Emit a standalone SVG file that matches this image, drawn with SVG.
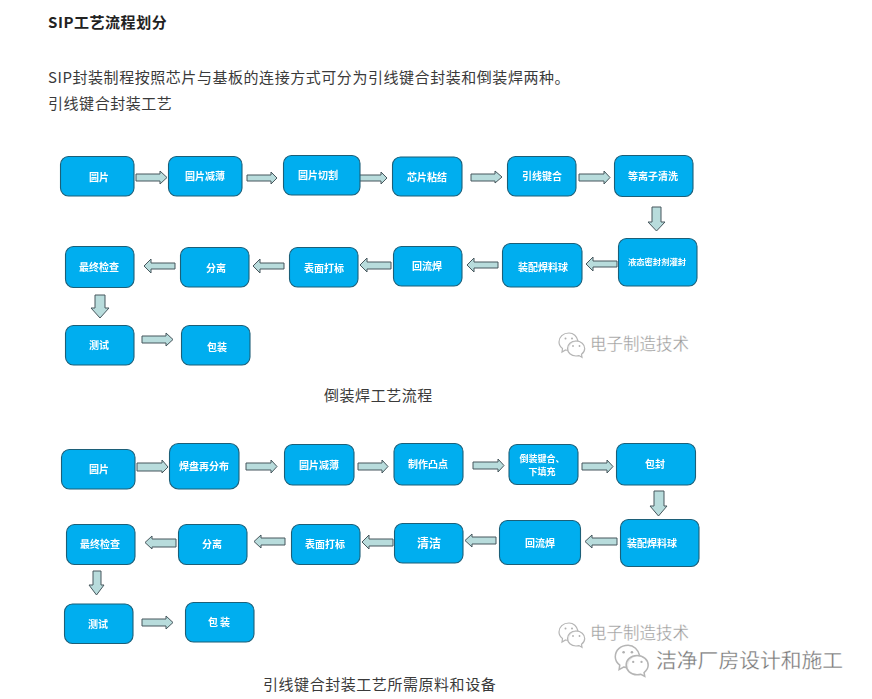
<svg xmlns="http://www.w3.org/2000/svg" xmlns:xlink="http://www.w3.org/1999/xlink" width="872" height="699" viewBox="0 0 872 699">
<style>
text{font-family:"Noto Sans CJK SC","Noto Sans",sans-serif}
.h{font-size:15px;letter-spacing:.55px;fill:#3a3a3a}
.b{font-weight:700;fill:#222}
.n rect{fill:#00aeef;stroke:#1d5f78;stroke-width:1.1}
.n text{font-size:10px;font-weight:700;fill:#fff;text-anchor:middle}
.a polygon{fill:#b8dcdc;stroke:#46565c;stroke-width:1}
.wm{fill:#9a9a9a;stroke:#fff;stroke-width:.3px}
.i{fill:#fff;fill-opacity:.75;stroke:#b5b5b5;stroke-width:1.2}
.e{fill:#b0b0b0}
</style>
<defs>
<filter id="s" x="-5%" y="-5%" width="110%" height="110%"><feGaussianBlur stdDeviation=".3"/></filter>
<g id="wx">
<path class="i" d="M11 1C5 1 1 5 1 10c0 3 1.500 5 3.500 6.500L4 20l3.500-2c1 .3 2 .4 3 .4C10 13 14 9 20 9 19 4.500 15.500 1 11 1z"/>
<path class="i" d="M18 9c-5 0-8.500 3.500-8.500 7.500S13 24 18 24c1 0 2-.1 3-.4l3 1.700-.5-3c2-1.500 3.200-3.500 3.200-5.800C26.700 12.500 23 9 18 9z"/>
<circle class="e" cx="7.500" cy="6.500" r="1"/><circle class="e" cx="14" cy="6.500" r="1"/>
<circle class="e" cx="15" cy="14" r=".9"/><circle class="e" cx="21.500" cy="14" r=".9"/>
</g>
</defs>
<rect width="872" height="699" fill="#fff"/>
<g id="intro">
<text class="h b" x="48" y="28">SIP工艺流程划分</text>
<text class="h" x="48" y="83">SIP封装制程按照芯片与基板的连接方式可分为引线键合封装和倒装焊两种。</text>
<text class="h" x="48" y="109">引线键合封装工艺</text>
</g>
<g id="connectors" class="a" filter="url(#s)">
<polygon points="136,174 160,174 160,171 167,177.500 160,184 160,181 136,181"/>
<polygon points="247,175 271,175 271,172 277,178 271,184 271,181 247,181"/>
<polygon points="357,175 381,175 381,172 387,178 381,184 381,181 357,181"/>
<polygon points="471,174 495,174 495,171 502,177 495,183 495,181 471,181"/>
<polygon points="579,174 604,174 604,171 610,177.500 604,184 604,181 579,181"/>
<polygon points="652,207 661,207 661,222 665,222 656.500,231 648,222 652,222"/>
<polygon points="617,261 593,261 593,257 586,264 593,271 593,267 617,267"/>
<polygon points="498,262 474,262 474,258 467,265 474,272 474,268 498,268"/>
<polygon points="391,262 367,262 367,258 360,265 367,272 367,269 391,269"/>
<polygon points="284,263 260,263 260,259 253,266 260,273 260,269 284,269"/>
<polygon points="175,263 151,263 151,259 144,266 151,273 151,269 175,269"/>
<polygon points="95,295 105,295 105,308 109,308 100,318 91,308 95,308"/>
<polygon points="142,336 166,336 166,333 173,339.500 166,346 166,343 142,343"/>
<polygon points="137,463 162,463 162,460 168,467 162,473 162,471 137,471"/>
<polygon points="246,463 271,463 271,460 277,466.500 271,473 271,470 246,470"/>
<polygon points="358,463 382,463 382,460 388,466.500 382,473 382,470 358,470"/>
<polygon points="473,462 498,462 498,459 504,465.500 498,472 498,469 473,469"/>
<polygon points="582,463 607,463 607,460 613,466.500 607,473 607,470 582,470"/>
<polygon points="654,491 664,491 664,506 667,506 658.500,516 650,506 654,506"/>
<polygon points="617,538 592,538 592,535 585,541.500 592,548 592,545 617,545"/>
<polygon points="496,537 472,537 472,534 465,540.500 472,547 472,544 496,544"/>
<polygon points="393,539 369,539 369,535 362,542 369,549 369,546 393,546"/>
<polygon points="285,538 261,538 261,535 254,541.500 261,548 261,545 285,545"/>
<polygon points="176,539 152,539 152,536 145,542.500 152,549 152,547 176,547"/>
<polygon points="93,571 101,571 101,585 104,585 96.500,595 89,585 93,585"/>
<polygon points="142,619 166,619 166,616 173,622.500 166,629 166,626 142,626"/>
</g>
<g filter="url(#s)">
<g id="n1" class="n"><rect x="60.500" y="156.500" width="73.500" height="39.500" rx="8"/><text x="99" y="181">圆片</text></g>
<g id="n2" class="n"><rect x="168.500" y="156.500" width="73.500" height="39.500" rx="8"/><text x="205" y="180">圆片减薄</text></g>
<g id="n3" class="n"><rect x="283.500" y="155.500" width="76.500" height="39.500" rx="8"/><text x="318" y="179">圆片切割</text></g>
<g id="n4" class="n"><rect x="392.500" y="157" width="69.500" height="39" rx="8"/><text x="427" y="181">芯片粘结</text></g>
<g id="n5" class="n"><rect x="507.500" y="156.500" width="68.500" height="39.500" rx="8"/><text x="542" y="180">引线键合</text></g>
<g id="n6" class="n"><rect x="614.500" y="155.500" width="78.500" height="41" rx="8"/><text x="653" y="180">等离子清洗</text></g>
<g id="n7" class="n"><rect x="618.500" y="238.500" width="78.500" height="47.500" rx="8"/><text x="657" y="265" style="font-size:8.300px">液态密封剂灌封</text></g>
<g id="n8" class="n"><rect x="502.500" y="243.500" width="79.500" height="43.500" rx="8"/><text x="543" y="271">装配焊料球</text></g>
<g id="n9" class="n"><rect x="393.500" y="246.500" width="68.500" height="39.500" rx="8"/><text x="427" y="270">回流焊</text></g>
<g id="n10" class="n"><rect x="289.500" y="247.500" width="68.500" height="39.500" rx="8"/><text x="324" y="272">表面打标</text></g>
<g id="n11" class="n"><rect x="180.500" y="247.500" width="68.500" height="39.500" rx="8"/><text x="216" y="272">分离</text></g>
<g id="n12" class="n"><rect x="65.500" y="246.500" width="68.500" height="41" rx="8"/><text x="99" y="271">最终检查</text></g>
<g id="n13" class="n"><rect x="65.500" y="325.500" width="68.500" height="39.500" rx="8"/><text x="99" y="349">测试</text></g>
<g id="n14" class="n"><rect x="181.500" y="325.500" width="68.500" height="39.500" rx="8"/><text x="217" y="351">包装</text></g>
<g id="m1" class="n"><rect x="61.500" y="449.500" width="73.500" height="39.500" rx="8"/><text x="99" y="473">圆片</text></g>
<g id="m2" class="n"><rect x="169.500" y="443.500" width="69.500" height="45.500" rx="9"/><text x="204" y="470">焊盘再分布</text></g>
<g id="m3" class="n"><rect x="284.500" y="444.500" width="69.500" height="40.500" rx="8"/><text x="319" y="469">圆片减薄</text></g>
<g id="m4" class="n"><rect x="394" y="443.500" width="69" height="41.500" rx="8"/><text x="428" y="468">制作凸点</text></g>
<g id="m5" class="n"><rect x="509" y="444.500" width="69" height="40" rx="8"/><text x="542" y="461.500" style="font-size:9px">倒装键合、</text><text x="542" y="475" style="font-size:9px">下填充</text></g>
<g id="m6" class="n"><rect x="616.500" y="443.500" width="79" height="41.500" rx="8"/><text x="655" y="468">包封</text></g>
<g id="m7" class="n"><rect x="620.500" y="519.500" width="78.500" height="47" rx="8"/><text x="652" y="547">装配焊料球</text></g>
<g id="m8" class="n"><rect x="499.500" y="520.500" width="81" height="44" rx="8"/><text x="540" y="547">回流焊</text></g>
<g id="m9" class="n"><rect x="394.500" y="523.500" width="68.500" height="39.500" rx="8"/><text x="429" y="548" style="font-size:12px">清洁</text></g>
<g id="m10" class="n"><rect x="291.500" y="524.500" width="68.500" height="40" rx="8"/><text x="325" y="548">表面打标</text></g>
<g id="m11" class="n"><rect x="178.500" y="524.500" width="68.500" height="40" rx="8"/><text x="212" y="548">分离</text></g>
<g id="m12" class="n"><rect x="66.500" y="524.500" width="68.500" height="40" rx="8"/><text x="100" y="548">最终检查</text></g>
<g id="m13" class="n"><rect x="64.500" y="604" width="68.500" height="39.500" rx="8"/><text x="98" y="628">测试</text></g>
<g id="m14" class="n"><rect x="185.500" y="602.500" width="68.500" height="39.500" rx="8"/><text x="220" y="626" style="letter-spacing:2px">包装</text></g>
</g>
<g id="captions">
<text class="h" x="324" y="401">倒装焊工艺流程</text>
<text class="h" x="263" y="690">引线键合封装工艺所需原料和设备</text>
</g>
<g id="watermarks">
<use xlink:href="#wx" x="558" y="332"/>
<text class="wm" x="590" y="350" style="font-size:16.500px">电子制造技术</text>
<use xlink:href="#wx" x="558" y="622"/>
<text class="wm" x="590" y="639" style="font-size:16.500px">电子制造技术</text>
<use xlink:href="#wx" transform="translate(614 644) scale(1.280)"/>
<text class="wm" x="656" y="668" style="font-size:20.800px;fill:#777">洁净厂房设计和施工</text>
</g>
</svg>
